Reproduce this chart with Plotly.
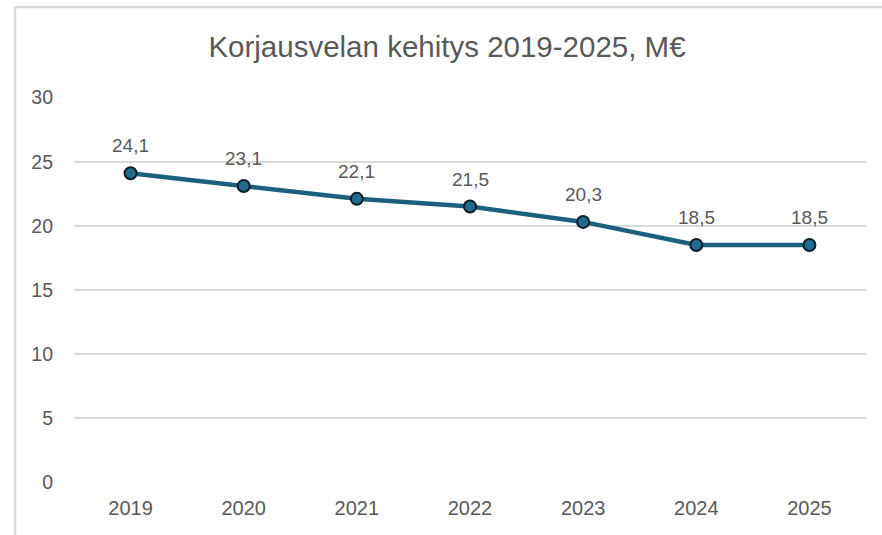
import plotly.graph_objects as go

years = ["2019", "2020", "2021", "2022", "2023", "2024", "2025"]
values = [24.1, 23.1, 22.1, 21.5, 20.3, 18.5, 18.5]
labels = ["24,1", "23,1", "22,1", "21,5", "20,3", "18,5", "18,5"]
y_ticks = [0, 5, 10, 15, 20, 25, 30]

W, H = 882, 535
ML, MR, MT, MB = 74, 16, 97, 53
pw = W - ML - MR
ph = H - MT - MB
FONT = "Liberation Sans, Arial, sans-serif"
GRAY = "#595959"

fig = go.Figure()
fig.add_trace(go.Scatter(
    x=years, y=values, mode="lines+markers",
    line=dict(color="#1D5F7E", width=4.5),
    marker=dict(size=12, color="#1F6C8E", line=dict(color="#0B1E28", width=2)),
    showlegend=False, hoverinfo="skip",
))

for i, (yv, lab) in enumerate(zip(values, labels)):
    fig.add_annotation(x=i, y=yv, xref="x", yref="y", text=lab, showarrow=False,
                       xanchor="center", yanchor="bottom", yshift=15,
                       font=dict(family=FONT, size=19, color=GRAY))

# frame lines (left and top) like the source image
fx = (15 - ML) / pw
fy = (H - MB - 7) / ph
fig.add_shape(type="line", xref="paper", yref="paper", x0=fx, x1=fx, y0=-0.5, y1=fy,
              line=dict(color="#D9D9D9", width=2.5))
fig.add_shape(type="line", xref="paper", yref="paper", x0=fx, x1=1.2, y0=fy, y1=fy,
              line=dict(color="#D9D9D9", width=2.5))

fig.update_layout(
    width=W, height=H,
    margin=dict(l=ML, r=MR, t=MT, b=MB),
    paper_bgcolor="white", plot_bgcolor="white",
    separators=",.",
    title=dict(text="Korjausvelan kehitys 2019-2025, M€", x=(447 - ML) / pw, xref="paper",
               xanchor="center", y=1 - 47 / H, yanchor="middle",
               font=dict(family=FONT, size=29.5, color=GRAY)),
    xaxis=dict(type="category", range=[-0.5, 6.5], showgrid=False, zeroline=False,
               showline=False, ticks="", ticklabelstandoff=12,
               tickfont=dict(family=FONT, size=20, color=GRAY)),
    yaxis=dict(range=[0, 30.05], tickvals=y_ticks, showgrid=True, gridcolor="#D9D9D9", gridwidth=1.5,
               zeroline=False, showline=False, ticks="", ticklabelstandoff=20,
               tickfont=dict(family=FONT, size=19.5, color=GRAY)),
)

fig.write_html("out.html", config={"displayModeBar": False},
               post_script="document.body.style.margin='0';")
